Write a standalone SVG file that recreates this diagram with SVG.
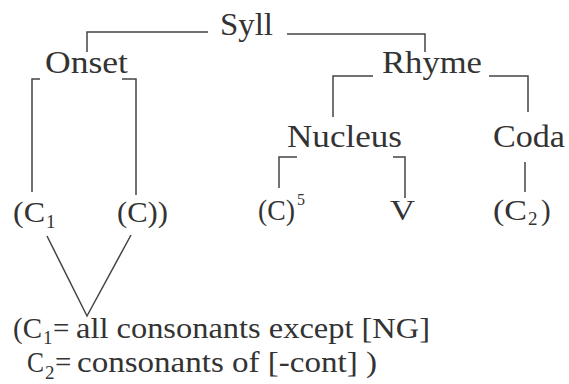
<svg xmlns="http://www.w3.org/2000/svg" width="569" height="384" viewBox="0 0 569 384">
<style>
text{font-family:'Liberation Serif',serif;fill:#333;}
.n{font-size:31px;}
.l{font-size:29px;}
.s{font-size:19px;}
.c path{fill:none;stroke:#444;stroke-width:1.5;}
</style>
<rect width="569" height="384" fill="#fff"/>
<g class="c" id="connectors">
<path d="M87,52 V32 H208"/>
<path d="M287,34 H425 V52"/>
<path d="M32,192 V79 H40"/>
<path d="M122,79 H136 V195"/>
<path d="M333,117 V76 H373"/>
<path d="M489,76 H528 V112"/>
<path d="M279,188 V157 H297"/>
<path d="M393,157 H405 V198"/>
<path d="M525,162 V192"/>
<path d="M47,236 L87,316 L131,235"/>
</g>
<g id="syll"><text class="n" x="220" y="35" textLength="53" lengthAdjust="spacingAndGlyphs">Syll</text></g>
<g id="onset"><text class="n" x="45" y="73" textLength="83" lengthAdjust="spacingAndGlyphs">Onset</text></g>
<g id="rhyme"><text class="n" x="382" y="73" textLength="100" lengthAdjust="spacingAndGlyphs">Rhyme</text></g>
<g id="nucleus"><text class="n" x="287" y="147" textLength="115" lengthAdjust="spacingAndGlyphs">Nucleus</text></g>
<g id="coda"><text class="n" x="493" y="147" textLength="72" lengthAdjust="spacingAndGlyphs">Coda</text></g>
<g id="c1"><text class="l" x="13" y="222" textLength="32" lengthAdjust="spacingAndGlyphs">(C</text><text class="s" x="46" y="228">1</text></g>
<g id="c-opt"><text class="l" x="117" y="222" textLength="51" lengthAdjust="spacingAndGlyphs">(C))</text></g>
<g id="c5"><text class="l" x="258" y="220" textLength="37" lengthAdjust="spacingAndGlyphs">(C)</text><text class="s" x="297" y="205" style="font-size:16px">5</text></g>
<g id="v"><text class="l" x="390" y="220" textLength="25" lengthAdjust="spacingAndGlyphs">V</text></g>
<g id="c2"><text class="l" x="493" y="220" textLength="34" lengthAdjust="spacingAndGlyphs">(C</text><text class="s" x="528" y="225">2</text><text class="l" x="541" y="220">)</text></g>
<g id="note">
<text class="l" x="13" y="338" textLength="29" lengthAdjust="spacingAndGlyphs">(C</text><text class="s" x="43" y="344">1</text><text class="l" x="53" y="338">=</text>
<text class="l" x="76" y="338" textLength="354" lengthAdjust="spacingAndGlyphs">all consonants except [NG]</text>
<text class="l" x="27" y="372" textLength="17" lengthAdjust="spacingAndGlyphs">C</text><text class="s" x="45" y="379">2</text><text class="l" x="55" y="372">=</text>
<text class="l" x="77" y="372" textLength="300" lengthAdjust="spacingAndGlyphs">consonants of [-cont] )</text>
</g>
</svg>
